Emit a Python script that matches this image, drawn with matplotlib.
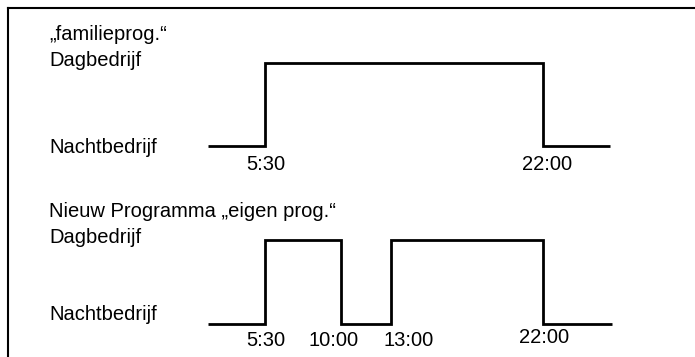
import matplotlib
matplotlib.use("Agg")
import matplotlib.pyplot as plt
from matplotlib.lines import Line2D
from matplotlib.transforms import blended_transform_factory, offset_copy

plt.rcParams['font.family'] = ['Liberation Sans', 'DejaVu Sans']

# level texts
day_label = "Dagbedrijf"
night_label = "Nachtbedrijf"

# top chart: family program (hours, 0 = night, 1 = day)
fam_title = "\u201efamilieprog.\u201c"
fam_times = [2.1, 5.5, 22.0, 26.0]
fam_state = [0, 1, 0, 0]
fam_ticks = [5.5, 22.0]
fam_ticklabels = ["5:30", "22:00"]

# bottom chart: own program
own_title = "Nieuw Programma \u201eeigen prog.\u201c"
own_times = [2.1, 5.5, 10.0, 13.0, 22.0, 26.1]
own_state = [0, 1, 0, 1, 0, 0]
own_ticks = [5.5, 10.0, 13.0, 22.0]
own_ticklabels = ["5:30", "10:00", "13:00", "22:00"]

fig = plt.figure(figsize=(6.95, 3.57), dpi=100)
fig.patch.set_facecolor("white")

# frame: only top and left edge
fig.add_artist(Line2D([7.5 / 695, 1], [1 - 8 / 357, 1 - 8 / 357],
                      transform=fig.transFigure, color="black", lw=1.5))
fig.add_artist(Line2D([7.5 / 695, 7.5 / 695], [0, 1 - 8 / 357],
                      transform=fig.transFigure, color="black", lw=1.5))

FS = 14.5


def draw_prog(ax, ylim, times, state, ticks, ticklabels, title,
              y_title, y_day, y_night, y_ticks, tick_dx):
    ax.set_xlim(-10.23, 31.06)
    ax.set_ylim(*ylim)
    ax.axis("off")
    ax.plot(times, state, drawstyle="steps-post", color="black", lw=2.0,
            solid_joinstyle="miter", solid_capstyle="butt", clip_on=False)
    tr = blended_transform_factory(ax.transAxes, ax.transData)
    x0 = 49 / 695
    ax.text(x0, y_title, title, transform=tr, fontsize=FS, va="baseline")
    ax.text(x0, y_day, day_label, transform=tr, fontsize=FS, va="baseline")
    ax.text(x0, y_night, night_label, transform=tr, fontsize=FS, va="baseline")
    for t, lab, dx, yt in zip(ticks, ticklabels, tick_dx, y_ticks):
        trans = offset_copy(ax.transData, fig=fig, x=dx * 0.72, y=0, units="points")
        ax.text(t, yt, lab, transform=trans, fontsize=FS, ha="center", va="baseline")


ax1 = fig.add_axes([0, 0.5, 1, 0.5])
draw_prog(ax1, (-0.3916, 1.759), fam_times, fam_state, fam_ticks, fam_ticklabels,
          fam_title, 1.277, 0.964, -0.084, [-0.295, -0.295], [1, 5])

ax2 = fig.add_axes([0, 0, 1, 0.5])
draw_prog(ax2, (-0.393, 1.732), own_times, own_state, own_ticks, own_ticklabels,
          own_title, 1.274, 0.964, 0.048, [-0.262, -0.262, -0.262, -0.226],
          [1, -7, 18, 2])

fig.savefig("out.png", dpi=100, facecolor="white")
